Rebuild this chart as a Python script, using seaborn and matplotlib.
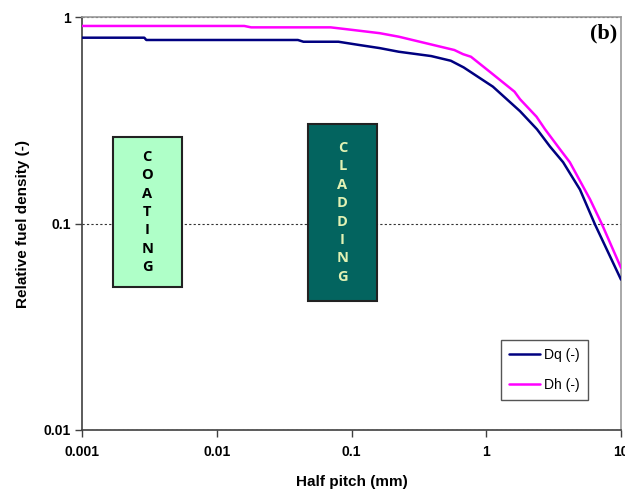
import pandas as pd
import numpy as np
import matplotlib
matplotlib.use("Agg")
import matplotlib.pyplot as plt
from matplotlib.patches import Rectangle
from matplotlib.ticker import FixedLocator, NullLocator
import seaborn as sns

# values
x_dq = [0.001, 0.0029, 0.003, 0.04, 0.044, 0.08, 0.114, 0.162, 0.224, 0.39, 0.546,
        0.68, 1.12, 1.78, 2.38, 2.97, 3.72, 4.96, 6.41, 10.0]
dq = [0.794, 0.794, 0.774, 0.774, 0.759, 0.759, 0.732, 0.707, 0.679, 0.647, 0.614,
      0.57, 0.46, 0.35, 0.286, 0.236, 0.198, 0.146, 0.099, 0.0535]
x_dh = [0.001, 0.016, 0.018, 0.07, 0.093, 0.162, 0.224, 0.58, 0.672, 0.77, 1.07,
        1.62, 1.78, 2.36, 2.73, 3.52, 4.17, 5.89, 7.23, 10.0]
dh = [0.905, 0.905, 0.891, 0.891, 0.872, 0.835, 0.803, 0.692, 0.661, 0.642, 0.541,
      0.435, 0.40, 0.329, 0.286, 0.229, 0.198, 0.131, 0.099, 0.061]
series_names = ["Dq (-)", "Dh (-)"]
x_ticks = [0.001, 0.01, 0.1, 1, 10]
x_ticklabels = ["0.001", "0.01", "0.1", "1", "10"]
y_ticks = [0.01, 0.1, 1]
y_ticklabels = ["0.01", "0.1", "1"]
region_labels = ["COATING", "CLADDING"]

df = pd.concat([
    pd.DataFrame({"x": x_dq, "y": dq, "series": series_names[0]}),
    pd.DataFrame({"x": x_dh, "y": dh, "series": series_names[1]}),
], ignore_index=True)

sns.set_style("ticks")
plt.rcParams["font.family"] = ["Liberation Sans", "DejaVu Sans"]
plt.rcParams["text.color"] = "black"
plt.rcParams["axes.labelcolor"] = "black"
plt.rcParams["xtick.labelcolor"] = "black"
plt.rcParams["ytick.labelcolor"] = "black"

fig = plt.figure(figsize=(6.25, 4.93), dpi=100)
ax = fig.add_axes([0.1312, 0.1278, 0.8624, 0.8377])

palette = {series_names[0]: "#000080", series_names[1]: "#FF00FF"}
sns.lineplot(data=df, x="x", y="y", hue="series", palette=palette, estimator=None,
             sort=False, linewidth=1.8, ax=ax, zorder=4)

ax.set_xscale("log")
ax.set_yscale("log")
ax.set_xlim(0.001, 10)
ax.set_ylim(0.01, 1)
ax.xaxis.set_major_locator(FixedLocator(x_ticks))
ax.yaxis.set_major_locator(FixedLocator(y_ticks))
ax.xaxis.set_minor_locator(NullLocator())
ax.yaxis.set_minor_locator(NullLocator())
ax.set_xticklabels(x_ticklabels, fontsize=10, fontweight="bold")
ax.set_yticklabels(y_ticklabels, fontsize=10, fontweight="bold")
ax.tick_params(axis="both", direction="out", length=5, width=1, color="#404040", pad=3)
ax.tick_params(axis="x", pad=6)

ax.yaxis.grid(True, linestyle=(0, (2, 2)), color="#333333", linewidth=0.8)
ax.set_axisbelow(True)

for s in ["left", "bottom"]:
    ax.spines[s].set_color("#404040")
    ax.spines[s].set_linewidth(1.2)
for s in ["top", "right"]:
    ax.spines[s].set_color("#999999")
    ax.spines[s].set_linewidth(1.2)

ax.set_xlabel("Half pitch (mm)", fontsize=11, fontweight="bold", labelpad=11)
ax.set_ylabel("Relative fuel density (-)", fontsize=11, fontweight="bold", labelpad=10)

# region boxes (axes fraction)
boxes = [
    (0.057, 0.3455, 0.128, 0.3645, "#AFFFC8", "black"),
    (0.419, 0.313, 0.128, 0.428, "#03645F", "#E2F2B4"),
]
for (bx, by, bw, bh, fc, tc), lab in zip(boxes, region_labels):
    ax.add_patch(Rectangle((bx, by), bw, bh, transform=ax.transAxes, facecolor=fc,
                           edgecolor="#222222", linewidth=1.5, zorder=3))
    ax.text(bx + bw / 2, by + bh / 2, "\n".join(lab), transform=ax.transAxes,
            ha="center", va="center", fontsize=10.5, fontweight="bold", color=tc,
            linespacing=1.4, zorder=5, family=["Open Sans", "DejaVu Sans"])

ax.text(0.993, 0.985, "(b)", transform=ax.transAxes, ha="right", va="top",
        fontsize=16, fontweight="bold", family=["Liberation Serif", "DejaVu Serif"])

leg = ax.legend(loc="lower right", bbox_to_anchor=(0.939, 0.073), fontsize=10,
                frameon=True, fancybox=False, edgecolor="#555555", framealpha=1,
                handlelength=2.2, labelspacing=1.1, borderpad=0.6, handletextpad=0.3,
                borderaxespad=0)
leg.get_frame().set_linewidth(1.0)
for t in leg.get_texts():
    t.set_color("black")

fig.savefig("out.png", dpi=100, facecolor="white")
